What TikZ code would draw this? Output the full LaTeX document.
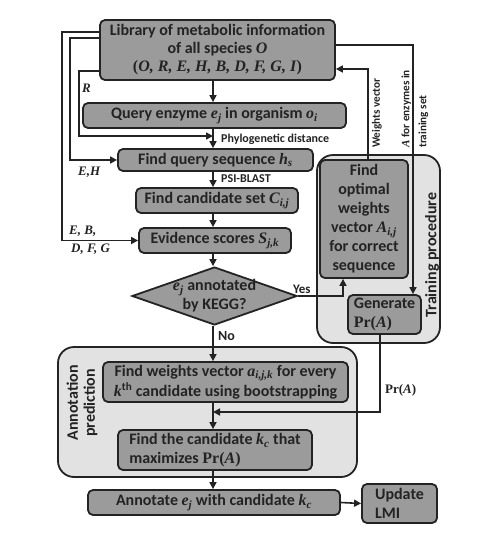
\documentclass[tikz,border=0pt]{standalone}
\usepackage{fontspec}
\setmainfont{Carlito}
\newfontfamily\tmsf{Liberation Serif}
\usetikzlibrary{shapes.geometric,arrows.meta}
\newcommand\mv[1]{{\tmsf\bfseries\itshape #1}}
\newcommand\ms[2]{\mv{#1}\textsubscript{\mv{#2}}}
\newcommand\PrA{{\tmsf\bfseries Pr(\textit{A})}}
\definecolor{boxgray}{RGB}{155,155,155}
\definecolor{grpgray}{RGB}{226,226,226}
\definecolor{ink}{RGB}{35,35,35}
\tikzset{
  box/.style={draw=ink, line width=1.8pt, fill=boxgray, rounded corners=5pt,
    font=\bfseries\fontsize{16}{19}\selectfont, inner sep=0pt, align=center, text=ink},
  grp/.style={draw=ink, line width=1.8pt, fill=grpgray, rounded corners=16pt, inner sep=0pt},
  arr/.style={draw=ink, line width=1.6pt, -{Triangle[length=7pt,width=7pt]}},
  lbl/.style={font=\bfseries\fontsize{12}{13}\selectfont, text=ink, inner sep=0pt},
  glbl/.style={font=\bfseries\fontsize{16}{17}\selectfont, text=ink, inner sep=0pt}
}
\begin{document}
\begin{tikzpicture}[x=1pt,y=-1pt]
\useasboundingbox (0,0) rectangle (477,539);
\coordinate (spine) at (213,0);
% group boxes
\node[grp, minimum width=123pt, minimum height=188pt] (train) at (378.5,249) {};
\node[grp, minimum width=299pt, minimum height=130pt] (annot) at (207.5,412) {};
\node[glbl, rotate=90] (trainlbl) at (432,255) {Training procedure};
\node[glbl, rotate=90, align=center] (annotlbl) at (82,403) {Annotation\\prediction};
% boxes
\node[box, minimum width=235pt, minimum height=60pt, font=\bfseries\fontsize{16}{18}\selectfont] (lib) at (217.5,50)
  {Library of metabolic information\\of all species \mv{O}\\{\tmsf\bfseries(\textit{O, R, E, H, B, D, F, G, I})}};
\node[box, minimum width=263pt, minimum height=25pt] (q) at (214.5,115.5)
  {Query enzyme \ms{e}{j} in organism \ms{o}{i}};
\node[box, minimum width=195pt, minimum height=22pt] (fq) at (215.5,160)
  {Find query sequence \ms{h}{s}};
\node[box, minimum width=162pt, minimum height=25pt] (cand) at (217,200.5)
  {Find candidate set \ms{C}{i,j}};
\node[box, minimum width=152pt, minimum height=25pt] (ev) at (215,240.5)
  {Evidence scores \ms{S}{j,k}};
\node[diamond, draw=ink, line width=1.8pt, fill=boxgray, minimum width=165pt, minimum height=58pt, inner sep=0pt] (dec) at (214.5,296) {};
\node[font=\bfseries\fontsize{16}{19}\selectfont, text=ink, align=center, inner sep=0pt] (dectxt) at (dec.center)
  {\ms{e}{j} annotated\\by KEGG?};
\node[box, minimum width=88pt, minimum height=118pt] (opt) at (364,219)
  {Find\\optimal\\weights\\vector \ms{A}{i,j}\\for correct\\sequence};
\node[box, minimum width=73pt, minimum height=39pt, align=left] (gen) at (384.5,314.5)
  {Generate\\\PrA};
\node[box, minimum width=245pt, minimum height=40pt] (fw) at (225.5,382)
  {Find weights vector \ms{a}{i,j,k} for every\\\mv{k}\textsuperscript{th} candidate using bootstrapping};
\node[box, minimum width=194pt, minimum height=40pt, align=left] (fc) at (215,450)
  {Find the candidate \ms{k}{c} that\\maximizes \PrA};
\node[box, minimum width=252pt, minimum height=25pt] (ann) at (214,502.5)
  {Annotate \ms{e}{j} with candidate \ms{k}{c}};
\node[box, minimum width=75pt, minimum height=39pt, align=left] (upd) at (399.5,503.5)
  {Update\\LMI};
% spine connectors
\draw[arr] (lib.south -| spine) -- (q.north -| spine);
\draw[arr] (q.south -| spine) -- (fq.north -| spine);
\draw[arr] (fq.south -| spine) -- (cand.north -| spine);
\draw[arr] (cand.south -| spine) -- (ev.north -| spine);
\draw[arr] (ev.south -| spine) -- (dec.north -| spine);
\draw[arr] (dec.south -| spine) -- (fw.north -| spine);
\draw[arr] (fw.south -| spine) -- (fc.north -| spine);
\draw[arr] (fc.south -| spine) -- (ann.north -| spine);
\draw[arr] (ann.east) -- (upd.west);
\node[lbl, anchor=west] (phylo) at (221,139) {Phylogenetic distance};
\node[lbl, anchor=west] (psi) at (221,179) {PSI-BLAST};
\node[lbl, anchor=west, font=\bfseries\fontsize{14}{15}\selectfont] (no) at (218,336) {No};
% left feedback lines
\coordinate (r0) at (100,71);
\coordinate (r1) at (79,71);
\coordinate (r2) at (79,136);
\draw[arr] (r0) -- (r1) -- (r2) -- (r2 -| spine);
\node[lbl, anchor=west, font=\bfseries\fontsize{13}{14}\selectfont] (rl) at (82,88) {\mv{R}};
\coordinate (eh0) at (100,38);
\coordinate (eh1) at (70,38);
\draw[arr] (eh0) -- (eh1) -- (eh1 |- fq.west) -- (fq.west);
\node[lbl, anchor=west, font=\bfseries\fontsize{13}{14}\selectfont] (ehl) at (78,172) {\mv{E,H}};
\coordinate (eb0) at (100,32);
\coordinate (eb1) at (62,32);
\draw[arr] (eb0) -- (eb1) -- (eb1 |- ev.west) -- (ev.west);
\node[lbl, anchor=north west, font=\bfseries\fontsize{13}{14}\selectfont] (ebl1) at (69,226) {\mv{E, B,}};
\node[lbl, anchor=north west, font=\bfseries\fontsize{13}{14}\selectfont] (ebl2) at (71,244) {\mv{D, F, G}};
% training connectors
\coordinate (yes1) at (343,296);
\draw[arr] (dec.east) -- (yes1) -- (yes1 |- opt.south);
\node[lbl, anchor=south west, font=\bfseries\fontsize{13}{14}\selectfont] (yesl) at (293,294) {Yes};
\coordinate (wv1) at (368,69);
\draw[arr] (opt.north -| wv1) -- (wv1) -- (lib.east |- wv1);
\node[lbl, rotate=90, anchor=west, font=\bfseries\fontsize{11.2}{12}\selectfont] (wvl) at (377,148) {Weights vector};
\coordinate (at1) at (413,45);
\draw[arr] (lib.east |- at1) -- (at1) -- (at1 |- gen.north);
\node[lbl, rotate=90, anchor=west, align=left, font=\bfseries\fontsize{11.2}{17}\selectfont] (atl) at (415,148) {\mv{A} for enzymes in\\training set};
\coordinate (pr1) at (380,412);
\draw[arr] (gen.south -| pr1) -- (pr1) -- (pr1 -| spine);
\node[lbl, anchor=west, font=\bfseries\fontsize{13}{14}\selectfont] (prl) at (385,390) {\PrA};
\end{tikzpicture}
\end{document}
